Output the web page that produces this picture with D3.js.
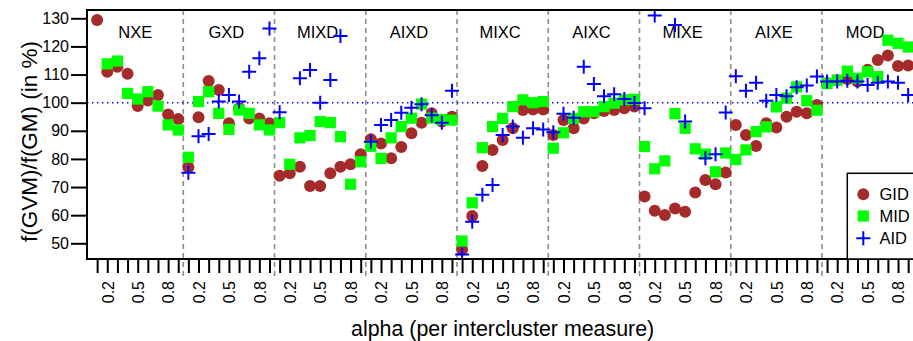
<!DOCTYPE html>
<html><head><meta charset="utf-8">
<script src="https://cdn.jsdelivr.net/npm/d3@7"></script>
<style>body{margin:0;background:#fff}svg{display:block;font-family:"Liberation Sans",Arial,sans-serif}</style>
</head><body>
<svg id="c" width="913" height="341"></svg>
<script>
const panels = ["NXE","GXD","MIXD","AIXD","MIXC","AIXC","MIXE","AIXE","MOD"];
const alphas = [0.1,0.2,0.3,0.4,0.5,0.6,0.7,0.8,0.9];
const alphaLabels = ["0.2","0.5","0.8"];
const yTicks = [50,60,70,80,90,100,110,120,130];
const seriesNames = ["GID","MID","AID"];
const seriesColors = ["#A52A2A","#00FF00","#0000FF"];

const gid = [
  129.4,111.0,112.8,110.3, 98.8,100.8,102.7, 95.8, 94.2,
   77.0, 94.8,107.7,104.5, 92.7, 98.0, 94.4, 94.4, 92.7,
   74.0, 74.9, 77.2, 70.4, 70.4, 74.9, 77.2, 78.1, 81.7,
   87.0, 85.5, 80.2, 84.2, 89.1, 92.9, 96.2, 93.3, 95.0,
   47.8, 59.7, 77.5, 83.2, 86.7, 90.9, 97.4, 97.6, 97.6,
   88.5, 93.8, 90.9, 94.4, 96.2, 97.0, 97.4, 98.0, 98.6,
   66.6, 61.6, 60.1, 62.4, 61.2, 68.1, 72.5, 71.0, 75.2,
   92.1, 88.5, 84.6, 92.7, 91.2, 95.0, 96.8, 96.2, 99.2,
  107.0,108.0,108.4,107.5,111.7,115.2,116.8,113.0,113.2
];
const mid = [
  null,113.8,114.8,103.3,101.3,103.9, 98.8, 92.1, 90.3,
   80.6,100.4,103.9, 96.2, 90.5, 97.4, 96.2, 92.1, 90.3,
   92.9, 78.1, 87.5, 88.3, 93.3, 92.9, 87.9, 71.0, 79.0,
   84.5, 80.2, 87.5, 91.5, 94.5, 99.5, 94.5, 94.0, 93.8,
   50.8, 64.4, 84.0, 91.5, 94.4, 98.6,101.0,100.0,100.4,
   83.8, 89.3, 94.4, 96.8, 96.8, 98.6, 99.8,101.0,101.2,
   84.4, 76.5, 79.3, 96.1, 90.9, 83.6, 81.7, 75.4, 82.1,
   79.8, 83.2, 89.7, 91.4, 98.5,101.6,105.6,100.7, 97.3,
  106.8,108.0,111.2,108.7,111.0,109.3,122.2,121.1,119.8
];
const aid = [
  null,null,null,null,null,null,null,null,null,
   75.1, 88.1, 88.9,100.4,102.7,100.4,111.0,115.8,126.4,
   96.6, null,108.7,111.6,100.0,108.1,123.7, null, null,
   86.1, 92.1, 93.8, 96.4, 98.2, 99.4, 95.5, 92.9,104.2,
   46.0, 57.7, 67.3, 70.7, 88.5, 91.5, 87.5, 90.9, 90.5,
   89.5, 96.1, 94.6,112.8,106.6,102.3,103.0,101.3, 99.9,
   98.0,131.0, null,127.6, 93.3, null, 80.2, 81.7, 96.5,
  109.4,104.2,107.1,100.7,102.7,102.3,105.5,106.1,109.3,
  107.5,107.5,107.8,107.5,106.3,107.1,107.5,107.1,102.7
];

const svg = d3.select("#c");
const pL = 87, pR = 918.3, pT = 10, pB = 259;
const x = d3.scaleLinear().domain([-1, panels.length*alphas.length]).range([pL, pR]);
const y = d3.scaleLinear().domain([50,130]).range([243.3, 18.3]);
const n = panels.length*alphas.length;
const idx = d3.range(n);

svg.append("defs").append("clipPath").attr("id","clip")
  .append("rect").attr("x",pL).attr("y",pT).attr("width",pR-pL).attr("height",pB-pT);

// separators
svg.append("g").selectAll("line").data(d3.range(1,panels.length)).join("line")
  .attr("x1",p=>x(p*alphas.length-0.5)).attr("x2",p=>x(p*alphas.length-0.5))
  .attr("y1",pT).attr("y2",277)
  .attr("stroke","#8c8c8c").attr("stroke-width",1.6).attr("stroke-dasharray","5,4");

// reference line at 100
svg.append("line").attr("x1",pL).attr("x2",pR).attr("y1",y(100)).attr("y2",y(100))
  .attr("stroke","#0000FF").attr("stroke-width",1.4).attr("stroke-dasharray","1.4,3.6");

// panel labels
svg.append("g").selectAll("text").data(panels).join("text")
  .attr("x",(d,p)=>x(p*alphas.length+4)-2.5).attr("y",38)
  .attr("text-anchor","middle").attr("font-size",16.5).text(d=>d);

const plot = svg.append("g").attr("clip-path","url(#clip)");
// GID circles
plot.append("g").selectAll("circle").data(idx.filter(i=>gid[i]!=null)).join("circle")
  .attr("cx",i=>x(i)).attr("cy",i=>y(gid[i])).attr("r",6).attr("fill",seriesColors[0]);
// MID squares
plot.append("g").selectAll("rect").data(idx.filter(i=>mid[i]!=null)).join("rect")
  .attr("x",i=>x(i)-5.6).attr("y",i=>y(mid[i])-5.6).attr("width",11.2).attr("height",11.2)
  .attr("fill",seriesColors[1]);
// AID crosses
const cr = 7;
plot.append("g").selectAll("path").data(idx.filter(i=>aid[i]!=null)).join("path")
  .attr("d",i=>{const cx=x(i),cy=y(aid[i]);return `M${cx-cr},${cy}H${cx+cr}M${cx},${cy-cr}V${cy+cr}`;})
  .attr("stroke",seriesColors[2]).attr("stroke-width",2).attr("fill","none");

// box
svg.append("rect").attr("x",pL).attr("y",pT).attr("width",pR-pL).attr("height",pB-pT)
  .attr("fill","none").attr("stroke","#000").attr("stroke-width",2);

// y axis
const ya = svg.append("g").attr("transform",`translate(${pL},0)`)
  .call(d3.axisLeft(y).tickValues(yTicks).tickSize(16).tickPadding(2));
ya.select(".domain").remove();
ya.selectAll("line").attr("stroke-width",2);
ya.selectAll("text").attr("font-size",16).attr("font-family","Liberation Sans, Arial, sans-serif").attr("fill","#000");

// x axis
const xa = svg.append("g").attr("transform",`translate(0,${pB})`)
  .call(d3.axisBottom(x).tickValues(idx).tickSize(14)
    .tickFormat(i=>{const a=alphas[i%alphas.length].toFixed(1);return alphaLabels.includes(a)?a:"";}));
xa.select(".domain").remove();
xa.selectAll("line").attr("stroke-width",2);
xa.selectAll("text").attr("font-size",16).attr("font-family","Liberation Sans, Arial, sans-serif").attr("fill","#000")
  .attr("transform","rotate(-90)").attr("text-anchor","end")
  .attr("x",-22).attr("y",0).attr("dy","0.36em");

// axis titles
svg.append("text").attr("x",(pL+pR)/2).attr("y",336).attr("text-anchor","middle")
  .attr("font-size",21.4).text("alpha (per intercluster measure)");
svg.append("text").attr("transform",`translate(29,${(pT+pB)/2+7}) rotate(-90)`)
  .attr("text-anchor","middle").attr("font-size",22.5).attr("dy","0.35em").text("f(GVM)/f(GM) (in %)");

// legend
const lg = svg.append("g");
lg.append("rect").attr("x",847.3).attr("y",173.3).attr("width",80).attr("height",pB-173.3)
  .attr("fill","#fff").attr("stroke","#000").attr("stroke-width",1.5);
const ly = [194.3,216,238.3];
lg.append("circle").attr("cx",863.3).attr("cy",ly[0]).attr("r",6).attr("fill",seriesColors[0]);
lg.append("rect").attr("x",863.3-5.6).attr("y",ly[1]-5.6).attr("width",11.2).attr("height",11.2).attr("fill",seriesColors[1]);
lg.append("path").attr("d",`M${863.3-cr},${ly[2]}H${863.3+cr}M863.3,${ly[2]-cr}V${ly[2]+cr}`)
  .attr("stroke",seriesColors[2]).attr("stroke-width",2);
lg.selectAll("text.l").data(seriesNames).join("text").attr("class","l")
  .attr("x",879.5).attr("y",(d,i)=>ly[i]).attr("dy","0.36em").attr("font-size",16.5).text(d=>d);
</script>
</body></html>
